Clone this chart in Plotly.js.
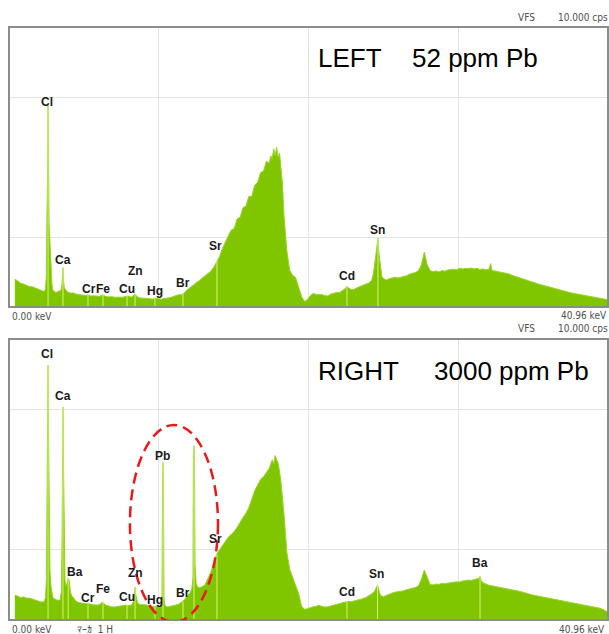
<!DOCTYPE html>
<html>
<head>
<meta charset="utf-8">
<script src="https://cdn.plot.ly/plotly-3.0.1.min.js"></script>
<style>html,body{margin:0;padding:0;background:#fff;}#chart{width:609px;height:634px;}</style>
</head>
<body>
<div id="chart"></div>
<script>
// ---- LEFT spectrum (52 ppm Pb): energy (keV) and display level (% of VFS) ----
const E1 = [0.4,0.6,0.8,1.0,1.2,1.4,1.6,1.8,2.0,2.2,2.4,2.5,2.56,2.6,2.64,2.67,2.70,2.74,2.8,2.87,2.94,3.0,3.2,3.4,3.55,3.62,3.66,3.69,3.72,3.78,3.9,4.0,4.2,4.4,4.6,4.8,5.0,5.2,5.4,5.6,5.8,6.0,6.2,6.4,6.6,6.8,7.0,7.2,7.4,7.6,7.8,8.0,8.2,8.4,8.6,8.8,9.0,9.2,9.4,9.6,9.8,10.0,10.2,10.4,10.6,10.8,11.0,11.2,11.4,11.6,11.8,12.0,12.2,12.4,12.6,12.8,13.0,13.2,13.4,13.6,13.8,14.0,14.2,14.4,14.6,14.8,15.0,15.2,15.4,15.6,15.8,16.0,16.2,16.4,16.6,16.8,17.0,17.2,17.4,17.6,17.8,17.9,18.0,18.1,18.2,18.3,18.4,18.5,18.6,18.7,18.8,19.0,19.2,19.4,19.6,19.8,20.0,20.2,20.4,20.6,20.8,21.0,21.2,21.4,21.6,21.8,22.0,22.2,22.4,22.6,22.8,23.0,23.11,23.2,23.4,23.6,23.8,24.0,24.2,24.4,24.6,24.8,24.9,25.0,25.1,25.23,25.3,25.4,25.5,25.6,25.8,26.0,26.2,26.4,26.6,26.8,27.0,27.2,27.4,27.6,27.8,28.0,28.2,28.4,28.5,28.6,28.8,29.0,29.2,29.4,29.6,29.8,30.0,30.2,30.4,30.6,30.8,31.0,31.2,31.4,31.6,31.8,32.0,32.2,32.4,32.6,32.8,32.95,33.0,33.2,33.4,33.6,33.8,34.0,34.2,34.4,34.6,34.8,35.0,35.2,35.4,35.6,35.8,36.0,36.2,36.4,36.6,36.8,37.0,37.2,37.4,37.6,37.8,38.0,38.2,38.4,38.6,38.8,39.0,39.2,39.4,39.6,39.8,40.0,40.2,40.4,40.6,40.8,40.96];
const V1 = [10.0,9.2,8.5,8.2,7.7,7.3,7.2,6.8,6.3,5.9,5.5,6.5,12,35,45,72,46,30,23,13,8,6.0,5.2,5.6,6.0,8.0,11,14,10,6.8,6.0,5.4,5.0,5.0,4.6,4.4,4.4,4.1,4.3,3.9,4.0,3.8,3.8,4.3,3.8,3.6,3.7,3.5,3.6,3.5,3.5,3.8,3.8,3.5,4.6,3.5,3.2,3.2,3.0,3.0,2.8,3.2,2.9,2.8,3.0,3.1,3.3,3.7,4.0,4.4,4.4,5.1,6.2,6.9,7.8,8.7,9.3,10.3,11.2,12.0,12.8,14.2,16.0,18.0,21.0,23.5,25.5,27.5,28.0,31.5,32.0,35.5,36.0,39.5,39.5,43.5,44.5,48.0,48.5,52.0,51.5,54.0,53.0,56.5,54.0,57.0,53.5,55.0,50.0,44.0,33.0,20.0,13.0,11.3,10.5,7.5,3.8,2.0,2.6,4.0,4.8,4.5,4.5,4.4,4.1,3.9,4.6,5.0,5.2,5.2,5.8,6.6,7.4,6.9,6.2,6.3,6.9,7.3,7.7,8.0,8.6,9.5,11.5,15.0,19.5,24.6,19.0,13.5,10.8,10.2,9.6,10.1,10.4,10.6,10.4,10.7,11.1,11.2,11.8,12.1,12.3,13.0,15.0,19.6,17.0,15.0,13.0,12.6,12.9,12.5,13.0,12.8,13.2,13.3,13.5,13.3,13.8,13.6,13.8,13.7,13.9,13.6,13.8,13.4,13.6,13.3,13.4,15.5,13.2,12.9,12.7,12.5,12.2,12.0,11.8,11.3,11.0,10.7,10.3,9.9,9.6,9.2,9.0,8.6,8.2,7.9,7.6,7.4,7.1,6.8,6.5,6.1,5.9,5.5,5.3,5.1,4.9,4.8,4.5,4.3,4.1,4.0,3.8,3.5,3.4,3.2,3.0,2.8,2.6];

// ---- RIGHT spectrum (3000 ppm Pb) ----
const E2 = [0.4,0.6,0.8,1.0,1.2,1.4,1.6,1.8,2.0,2.2,2.4,2.5,2.56,2.6,2.64,2.67,2.70,2.74,2.8,2.87,2.94,3.0,3.2,3.4,3.5,3.58,3.63,3.66,3.69,3.72,3.76,3.83,3.9,3.97,4.05,4.12,4.2,4.3,4.4,4.6,4.8,5.0,5.2,5.4,5.6,5.8,6.0,6.2,6.4,6.6,6.8,7.0,7.2,7.4,7.6,7.8,8.0,8.2,8.4,8.5,8.58,8.62,8.67,8.75,8.8,9.0,9.2,9.4,9.6,9.8,10.0,10.2,10.4,10.46,10.50,10.53,10.56,10.60,10.66,10.8,11.0,11.2,11.4,11.6,11.8,12.0,12.2,12.4,12.5,12.58,12.61,12.65,12.68,12.72,12.8,12.9,13.0,13.2,13.4,13.6,13.8,14.0,14.2,14.4,14.6,14.8,15.0,15.2,15.4,15.6,15.8,16.0,16.2,16.4,16.6,16.8,17.0,17.2,17.4,17.6,17.8,17.9,18.0,18.1,18.2,18.3,18.4,18.5,18.6,18.8,19.0,19.2,19.4,19.6,19.8,20.0,20.2,20.4,20.6,20.8,21.0,21.2,21.4,21.6,21.8,22.0,22.2,22.4,22.6,22.8,23.0,23.2,23.4,23.6,23.8,24.0,24.2,24.4,24.6,24.8,25.0,25.1,25.2,25.3,25.4,25.6,25.8,26.0,26.2,26.4,26.6,26.8,27.0,27.2,27.4,27.6,27.8,28.0,28.2,28.4,28.6,28.8,29.0,29.2,29.4,29.6,29.8,30.0,30.2,30.4,30.6,30.8,31.0,31.2,31.4,31.6,31.8,32.0,32.1,32.21,32.3,32.4,32.6,32.8,33.0,33.2,33.4,33.6,33.8,34.0,34.2,34.4,34.6,34.8,35.0,35.2,35.4,35.6,35.8,36.0,36.2,36.4,36.6,36.8,37.0,37.2,37.4,37.6,37.8,38.0,38.2,38.4,38.6,38.8,39.0,39.2,39.4,39.6,39.8,40.0,40.2,40.4,40.6,40.8,40.96];
const V2 = [8.9,8.5,8.0,8.2,7.8,7.8,7.4,7.0,6.6,6.4,6.5,8.0,15,40,68,90.7,68,40,18,12,9,8.0,7.2,7.0,7.2,10,30,59,75.8,59,30,14,12,13,15,14,10,8.5,8.0,6.6,6.2,6.0,5.8,6.0,5.5,5.4,5.3,5.5,6.4,5.3,4.9,4.7,4.6,4.8,4.9,5.0,5.3,5.1,5.4,6.5,10,11.7,9,6.5,6.0,5.4,5.5,5.3,5.0,4.8,4.9,4.7,5.0,8,47,56,47,8,5.2,4.6,4.8,5.0,5.2,5.6,6.4,7.2,8.8,9.8,11,15,58,62,58,20,13,11.7,11.5,11.8,12.5,14.5,17.0,20.0,23.5,25.0,26.5,28.0,29.5,30.5,31.5,33.0,35.0,36.5,38.0,40.0,43.0,46.0,48.0,50.0,51.0,52.5,54.0,55.5,57.0,55.5,58.5,57.0,56.0,53.0,49.0,38.0,24.0,18.0,15.0,12.5,9.5,5.0,3.8,4.0,4.4,4.7,4.9,5.2,4.8,4.6,4.7,5.0,5.4,5.7,6.0,6.2,6.4,6.6,6.5,6.8,7.0,7.2,7.6,8.0,8.6,9.3,10.2,11.3,12.5,10.5,8.8,8.3,8.8,9.3,9.6,9.9,10.0,10.1,10.4,10.8,11.0,11.2,11.6,12.2,14.5,17.8,15.0,12.6,12.5,12.8,12.7,13.0,12.9,13.2,13.3,13.4,13.6,13.5,13.9,14.0,14.2,14.1,14.4,14.6,14.8,15.5,14.0,13.3,12.7,12.4,12.2,12.0,11.9,11.7,11.4,11.2,11.0,10.9,10.7,10.5,10.1,9.8,9.4,9.2,8.9,8.7,8.5,8.2,8.0,7.9,7.8,7.5,7.2,7.0,6.8,6.6,6.4,6.2,6.0,5.8,5.6,5.4,5.2,5.0,4.8,4.6,4.4,4.2,3.8,3.2,2.8];

// ---- element marker lines (energy, height) ----
const markerE1 = [2.67,3.69,5.40,6.43,8.07,8.62,9.98,11.90,14.22,23.11,25.23];
const markerH1 = [72,14,4.5,4.5,4.3,4.6,3.2,5.0,16.5,7.4,24.6];
const markerE2 = [2.67,3.69,4.05,5.40,6.43,8.07,8.62,9.98,10.53,11.90,12.65,14.22,23.11,25.20,32.21];
const markerH2 = [90.7,75.8,15,6.0,6.4,5.3,11.7,4.9,56,6.6,62,23.5,6.6,12.5,15.5];

// ---- element labels ----
const labels1 = ["Cl","Ca","Cr","Fe","Cu","Zn","Hg","Br","Sr","Cd","Sn"];
const labelE1 = [2.60,3.69,5.45,6.40,8.07,8.68,9.98,11.90,14.09,23.11,25.23];
const labelY1 = [73.2,16.8,6.4,6.4,6.4,12.9,5.7,8.6,21.8,11.1,27.5];
const labels2 = ["Cl","Ca","Ba","Cr","Fe","Cu","Zn","Hg","Pb","Br","Sr","Cd","Sn","Ba"];
const labelE2 = [2.60,3.69,4.51,5.40,6.43,8.07,8.68,9.98,10.53,11.90,14.15,23.11,25.16,32.21];
const labelY2 = [94.7,79.7,17.1,7.8,11.0,8.2,16.7,7.1,58.4,9.6,28.8,10.0,16.4,20.3];

const panelTitles = [["LEFT","52 ppm Pb"],["RIGHT","3000 ppm Pb"]];

const GREEN = 'rgb(128,198,0)';
const EDGE = 'rgb(152,214,34)';
const MARK = 'rgb(214,242,120)';

function spectrum(E, V, xa, ya) {
  return {x:E, y:V, xaxis:xa, yaxis:ya, type:'scatter', mode:'lines',
    line:{color:EDGE, width:1}, fill:'tozeroy', fillcolor:GREEN, hoverinfo:'skip'};
}
function markers(E, H, xa, ya) {
  const x=[], y=[];
  E.forEach((e,i)=>{x.push(e,e,null); y.push(0,H[i],null);});
  return {x:x, y:y, xaxis:xa, yaxis:ya, type:'scatter', mode:'lines',
    line:{color:MARK, width:1}, hoverinfo:'skip'};
}

const data = [
  spectrum(E1,V1,'x','y'), markers(markerE1,markerH1,'x','y'),
  spectrum(E2,V2,'x2','y2'), markers(markerE2,markerH2,'x2','y2')
];

const labFont = {family:'Liberation Sans, Arial, sans-serif', size:12, color:'#1a1a1a'};
const ann = [];
labels1.forEach((t,i)=>ann.push({x:labelE1[i], y:labelY1[i], xref:'x', yref:'y', text:'<b>'+t+'</b>', showarrow:false, font:labFont}));
labels2.forEach((t,i)=>ann.push({x:labelE2[i], y:labelY2[i], xref:'x2', yref:'y2', text:'<b>'+t+'</b>', showarrow:false, font:labFont}));

const bigFont = {family:'Liberation Sans, Arial, sans-serif', size:26, color:'#000'};
ann.push({xref:'paper', yref:'paper', x:316/609, y:1-58/634, xanchor:'left', yanchor:'middle', text:panelTitles[0][0], showarrow:false, font:bigFont});
ann.push({xref:'paper', yref:'paper', x:410/609, y:1-58/634, xanchor:'left', yanchor:'middle', text:panelTitles[0][1], showarrow:false, font:bigFont});
ann.push({xref:'paper', yref:'paper', x:316/609, y:1-371/634, xanchor:'left', yanchor:'middle', text:panelTitles[1][0], showarrow:false, font:bigFont});
ann.push({xref:'paper', yref:'paper', x:432/609, y:1-371/634, xanchor:'left', yanchor:'middle', text:panelTitles[1][1], showarrow:false, font:bigFont});

const smallFont = {family:'DejaVu Sans Condensed, Liberation Sans Narrow, Arial Narrow, sans-serif', size:10, color:'#505050'};
function small(text, px, py, anchor) {
  ann.push({xref:'paper', yref:'paper', x:px/609, y:1-py/634, xanchor:anchor, yanchor:'middle', text:text, showarrow:false, font:smallFont});
}
small('VFS', 516, 17, 'left'); small('10.000 cps', 556, 17, 'left');
small('0.00 keV', 10, 316, 'left'); small('40.96 keV', 609, 315, 'right');
small('VFS', 516, 328, 'left'); small('10.000 cps', 556, 328, 'left');
small('0.00 keV', 10, 629, 'left'); small('ﾏｰｶ  1 H', 75, 629, 'left'); small('40.96 keV', 607, 629, 'right');

const xGrid = [10.24, 20.48, 30.72];
const yGrid = [25, 75];
function xax(domain, anchor){ return {domain:domain, range:[0,40.96], anchor:anchor, tickvals:xGrid, showgrid:true, gridcolor:'#e4e4e4', gridwidth:1, ticks:'', showticklabels:false, zeroline:false, showline:false, fixedrange:true}; }
function yax(domain, anchor){ return {domain:domain, range:[0,100], anchor:anchor, tickvals:yGrid, showgrid:true, gridcolor:'#e4e4e4', gridwidth:1, ticks:'', showticklabels:false, zeroline:false, showline:false, fixedrange:true}; }

const border = {color:'#8c8c8c', width:2};
const layout = {
  width:609, height:634, margin:{l:0,r:0,t:0,b:0}, showlegend:false,
  paper_bgcolor:'#fff', plot_bgcolor:'#fff',
  xaxis: xax([9/609, 608/609], 'y'),
  yaxis: yax([(634-307)/634, (634-27)/634], 'x'),
  xaxis2: xax([9/609, 608/609], 'y2'),
  yaxis2: yax([(634-620)/634, (634-339)/634], 'x2'),
  annotations: ann,
  shapes: [
    {type:'rect', xref:'x domain', yref:'y domain', x0:0, x1:1, y0:0, y1:1, line:border, layer:'above'},
    {type:'rect', xref:'x2 domain', yref:'y2 domain', x0:0, x1:1, y0:0, y1:1, line:border, layer:'above'},
    {type:'circle', xref:'x2', yref:'y2', x0:8.27, x1:14.29, y0:-0.7, y1:69.4, line:{color:'rgb(235,25,25)', width:2.5, dash:'11px,6px'}, layer:'above'}
  ]
};
Plotly.newPlot('chart', data, layout, {staticPlot:true, displayModeBar:false});
</script>
</body>
</html>
